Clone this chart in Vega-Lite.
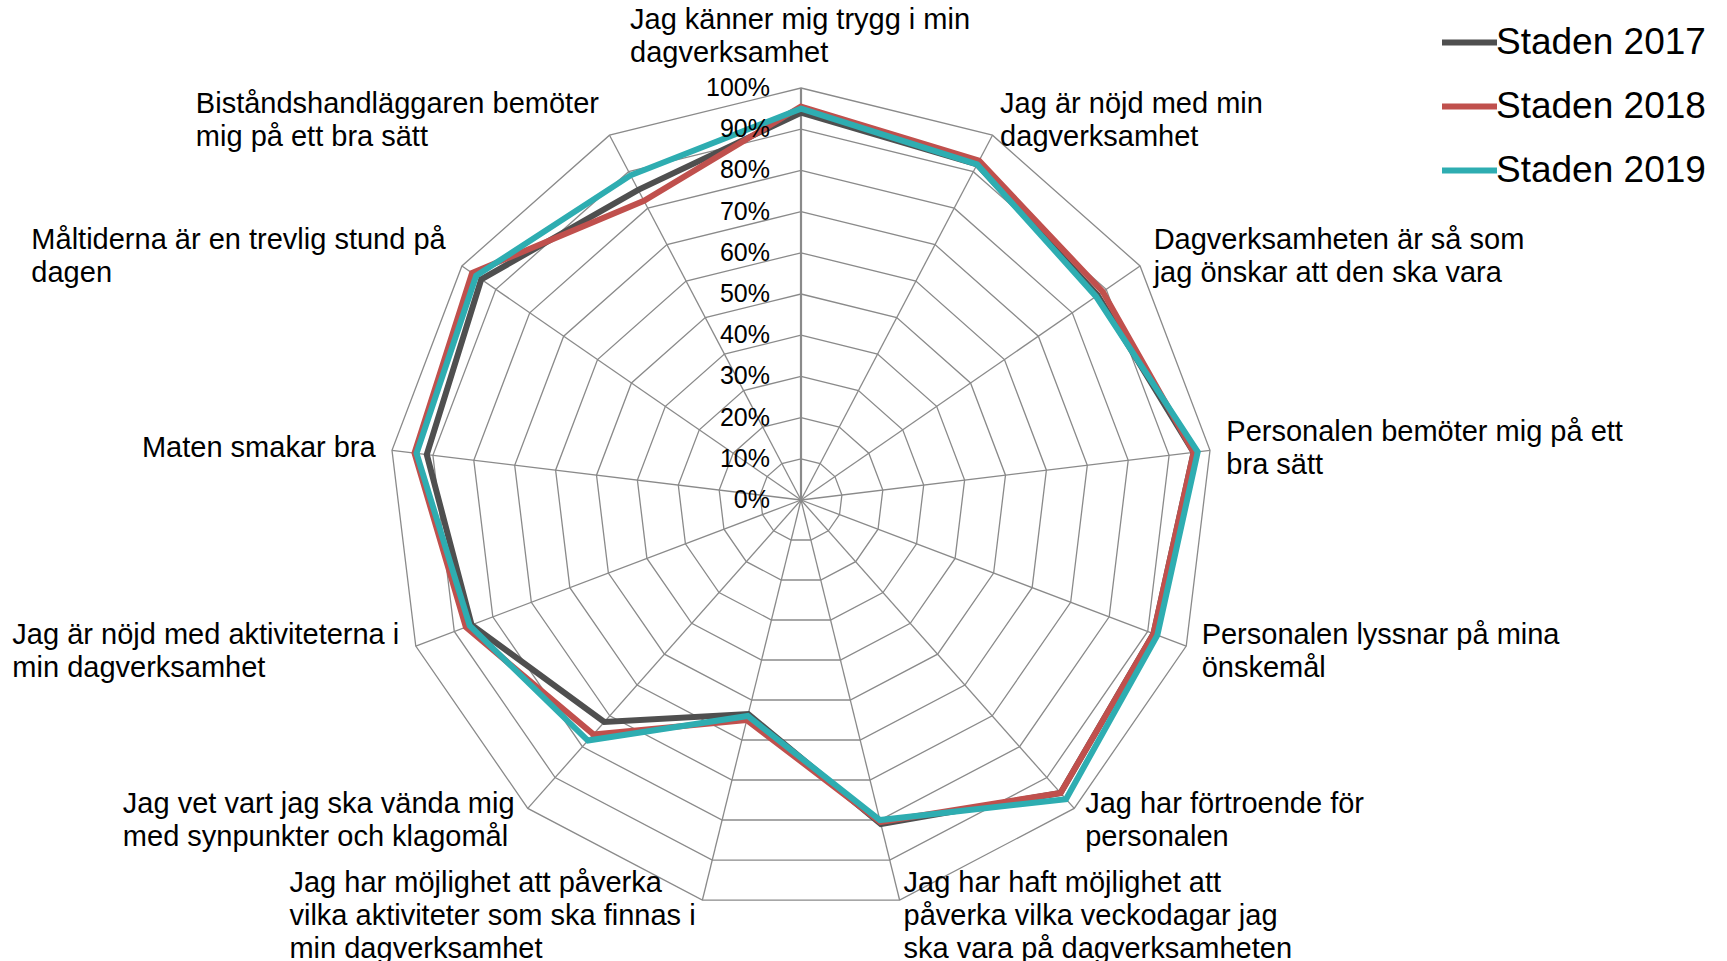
{
  "$schema": "https://vega.github.io/schema/vega-lite/v6.json",
  "width": 1727,
  "height": 961,
  "padding": 0,
  "autosize": "none",
  "background": "white",
  "config": {
    "view": {"stroke": null},
    "font": "Liberation Sans",
    "legend": {
      "orient": "none",
      "legendX": 1439,
      "legendY": 12,
      "padding": 0,
      "symbolType": "stroke",
      "symbolSize": 3025,
      "symbolStrokeWidth": 6,
      "labelFontSize": 37,
      "labelFont": "Liberation Sans",
      "labelColor": "black",
      "labelOffset": -4,
      "labelLimit": 400,
      "rowPadding": 15
    }
  },
  "datasets": {
    "cats": [
      {"i": 0, "label": ["Jag känner mig trygg i min", "dagverksamhet"]},
      {"i": 1, "label": ["Jag är nöjd med min", "dagverksamhet"]},
      {"i": 2, "label": ["Dagverksamheten är så som", "jag önskar att den ska vara"]},
      {"i": 3, "label": ["Personalen bemöter mig på ett", "bra sätt"]},
      {"i": 4, "label": ["Personalen lyssnar på mina", "önskemål"]},
      {"i": 5, "label": ["Jag har förtroende för", "personalen"]},
      {"i": 6, "label": ["Jag har haft möjlighet att", "påverka vilka veckodagar jag", "ska vara på dagverksamheten"]},
      {"i": 7, "label": ["Jag har möjlighet att påverka", "vilka aktiviteter som ska finnas i", "min dagverksamhet"]},
      {"i": 8, "label": ["Jag vet vart jag ska vända mig", "med synpunkter och klagomål"]},
      {"i": 9, "label": ["Jag är nöjd med aktiviteterna i", "min dagverksamhet"]},
      {"i": 10, "label": ["Maten smakar bra"]},
      {"i": 11, "label": ["Måltiderna är en trevlig stund på", "dagen"]},
      {"i": 12, "label": ["Biståndshandläggaren bemöter", "mig på ett bra sätt"]}
    ],
    "vals": [
      {"i": 0, "serie": "Staden 2017", "value": 94},
      {"i": 1, "serie": "Staden 2017", "value": 92},
      {"i": 2, "serie": "Staden 2017", "value": 87.5},
      {"i": 3, "serie": "Staden 2017", "value": 96},
      {"i": 4, "serie": "Staden 2017", "value": 91.5},
      {"i": 5, "serie": "Staden 2017", "value": 95},
      {"i": 6, "serie": "Staden 2017", "value": 81},
      {"i": 7, "serie": "Staden 2017", "value": 53.5},
      {"i": 8, "serie": "Staden 2017", "value": 72},
      {"i": 9, "serie": "Staden 2017", "value": 85.5},
      {"i": 10, "serie": "Staden 2017", "value": 91.5},
      {"i": 11, "serie": "Staden 2017", "value": 94.3},
      {"i": 12, "serie": "Staden 2017", "value": 85},
      {"i": 0, "serie": "Staden 2018", "value": 95.5},
      {"i": 1, "serie": "Staden 2018", "value": 93},
      {"i": 2, "serie": "Staden 2018", "value": 89},
      {"i": 3, "serie": "Staden 2018", "value": 96},
      {"i": 4, "serie": "Staden 2018", "value": 91.5},
      {"i": 5, "serie": "Staden 2018", "value": 95},
      {"i": 6, "serie": "Staden 2018", "value": 80.5},
      {"i": 7, "serie": "Staden 2018", "value": 55},
      {"i": 8, "serie": "Staden 2018", "value": 76},
      {"i": 9, "serie": "Staden 2018", "value": 87},
      {"i": 10, "serie": "Staden 2018", "value": 94.5},
      {"i": 11, "serie": "Staden 2018", "value": 97},
      {"i": 12, "serie": "Staden 2018", "value": 82},
      {"i": 0, "serie": "Staden 2019", "value": 95},
      {"i": 1, "serie": "Staden 2019", "value": 92},
      {"i": 2, "serie": "Staden 2019", "value": 87},
      {"i": 3, "serie": "Staden 2019", "value": 97},
      {"i": 4, "serie": "Staden 2019", "value": 92.5},
      {"i": 5, "serie": "Staden 2019", "value": 97},
      {"i": 6, "serie": "Staden 2019", "value": 80},
      {"i": 7, "serie": "Staden 2019", "value": 54},
      {"i": 8, "serie": "Staden 2019", "value": 78},
      {"i": 9, "serie": "Staden 2019", "value": 86},
      {"i": 10, "serie": "Staden 2019", "value": 94},
      {"i": 11, "serie": "Staden 2019", "value": 95.8},
      {"i": 12, "serie": "Staden 2019", "value": 89}
    ],
    "grid": [
      {"level": 10, "i": [0,1,2,3,4,5,6,7,8,9,10,11,12]},
      {"level": 20, "i": [0,1,2,3,4,5,6,7,8,9,10,11,12]},
      {"level": 30, "i": [0,1,2,3,4,5,6,7,8,9,10,11,12]},
      {"level": 40, "i": [0,1,2,3,4,5,6,7,8,9,10,11,12]},
      {"level": 50, "i": [0,1,2,3,4,5,6,7,8,9,10,11,12]},
      {"level": 60, "i": [0,1,2,3,4,5,6,7,8,9,10,11,12]},
      {"level": 70, "i": [0,1,2,3,4,5,6,7,8,9,10,11,12]},
      {"level": 80, "i": [0,1,2,3,4,5,6,7,8,9,10,11,12]},
      {"level": 90, "i": [0,1,2,3,4,5,6,7,8,9,10,11,12]},
      {"level": 100, "i": [0,1,2,3,4,5,6,7,8,9,10,11,12]}
    ],
    "ticks": [
      {"level": 0, "tick": "0%"},
      {"level": 10, "tick": "10%"},
      {"level": 20, "tick": "20%"},
      {"level": 30, "tick": "30%"},
      {"level": 40, "tick": "40%"},
      {"level": 50, "tick": "50%"},
      {"level": 60, "tick": "60%"},
      {"level": 70, "tick": "70%"},
      {"level": 80, "tick": "80%"},
      {"level": 90, "tick": "90%"},
      {"level": 100, "tick": "100%"}
    ]
  },
  "layer": [
    {
      "data": {"name": "grid"},
      "transform": [
        {"flatten": ["i"]},
        {"calculate": "datum.level / 100 * sin(datum.i * 2 * PI / 13)", "as": "x"},
        {"calculate": "datum.level / 100 * cos(datum.i * 2 * PI / 13)", "as": "y"}
      ],
      "mark": {"type": "line", "interpolate": "linear-closed", "stroke": "#8a8a8a", "strokeWidth": 1.3},
      "encoding": {
        "x": {"field": "x", "type": "quantitative", "scale": {"domain": [-1.94417, 2.24757], "nice": false, "zero": false}, "axis": null},
        "y": {"field": "y", "type": "quantitative", "scale": {"domain": [-1.11893, 1.21359], "nice": false, "zero": false}, "axis": null},
        "detail": {"field": "level", "type": "nominal"},
        "order": {"field": "i", "type": "quantitative"}
      }
    },
    {
      "data": {"name": "cats"},
      "transform": [
        {"calculate": "sin(datum.i * 2 * PI / 13)", "as": "x"},
        {"calculate": "cos(datum.i * 2 * PI / 13)", "as": "y"},
        {"calculate": "0", "as": "x0"},
        {"calculate": "0", "as": "y0"},
        {"calculate": "datum.i == 0 ? 2.2 : 1.3", "as": "sw"}
      ],
      "mark": {"type": "rule", "stroke": "#8a8a8a"},
      "encoding": {
        "x": {"field": "x0", "type": "quantitative", "scale": {"domain": [-1.94417, 2.24757], "nice": false, "zero": false}, "axis": null},
        "y": {"field": "y0", "type": "quantitative", "scale": {"domain": [-1.11893, 1.21359], "nice": false, "zero": false}, "axis": null},
        "x2": {"field": "x"},
        "y2": {"field": "y"},
        "strokeWidth": {"field": "sw", "type": "quantitative", "scale": null}
      }
    },
    {
      "data": {"name": "vals"},
      "transform": [
        {"calculate": "datum.value / 100 * sin(datum.i * 2 * PI / 13)", "as": "x"},
        {"calculate": "datum.value / 100 * cos(datum.i * 2 * PI / 13)", "as": "y"}
      ],
      "mark": {"type": "line", "interpolate": "linear-closed", "strokeWidth": 6, "strokeJoin": "miter"},
      "encoding": {
        "x": {"field": "x", "type": "quantitative", "scale": {"domain": [-1.94417, 2.24757], "nice": false, "zero": false}, "axis": null},
        "y": {"field": "y", "type": "quantitative", "scale": {"domain": [-1.11893, 1.21359], "nice": false, "zero": false}, "axis": null},
        "color": {"field": "serie", "type": "nominal", "title": null, "scale": {"domain": ["Staden 2017", "Staden 2018", "Staden 2019"], "range": ["#4f4f4f", "#c0504d", "#2eadb1"]}},
        "order": {"field": "i", "type": "quantitative"}
      }
    },
    {
      "data": {"name": "cats"},
      "transform": [
        {"calculate": "1.04 * sin(datum.i * 2 * PI / 13)", "as": "x"},
        {"calculate": "1.04 * cos(datum.i * 2 * PI / 13) + (length(datum.label) - 1) / 2 * 0.0801", "as": "y"},
        {"filter": "datum.x > 0.1"}
      ],
      "mark": {"type": "text", "align": "left", "baseline": "middle", "fontSize": 29, "lineHeight": 33, "color": "black", "font": "Liberation Sans"},
      "encoding": {
        "x": {"field": "x", "type": "quantitative", "scale": {"domain": [-1.94417, 2.24757], "nice": false, "zero": false}, "axis": null},
        "y": {"field": "y", "type": "quantitative", "scale": {"domain": [-1.11893, 1.21359], "nice": false, "zero": false}, "axis": null},
        "text": {"field": "label", "type": "nominal"}
      }
    },
    {
      "data": {"name": "cats"},
      "transform": [
        {"calculate": "1.04 * sin(datum.i * 2 * PI / 13)", "as": "x"},
        {"calculate": "1.04 * cos(datum.i * 2 * PI / 13) + (length(datum.label) - 1) / 2 * 0.0801", "as": "y"},
        {"filter": "datum.i == 10"}
      ],
      "mark": {"type": "text", "align": "right", "baseline": "middle", "fontSize": 29, "lineHeight": 33, "color": "black", "font": "Liberation Sans"},
      "encoding": {
        "x": {"field": "x", "type": "quantitative", "scale": {"domain": [-1.94417, 2.24757], "nice": false, "zero": false}, "axis": null},
        "y": {"field": "y", "type": "quantitative", "scale": {"domain": [-1.11893, 1.21359], "nice": false, "zero": false}, "axis": null},
        "text": {"field": "label", "type": "nominal"}
      }
    },
    {
      "data": {"name": "cats"},
      "transform": [
        {"calculate": "1.04 * sin(datum.i * 2 * PI / 13)", "as": "x"},
        {"calculate": "1.04 * cos(datum.i * 2 * PI / 13) + (length(datum.label) - 1) / 2 * 0.0801", "as": "y"},
        {"filter": "datum.i == 7"}
      ],
      "mark": {"type": "text", "align": "left", "baseline": "middle", "dx": -409, "fontSize": 29, "lineHeight": 33, "color": "black", "font": "Liberation Sans"},
      "encoding": {
        "x": {"field": "x", "type": "quantitative", "scale": {"domain": [-1.94417, 2.24757], "nice": false, "zero": false}, "axis": null},
        "y": {"field": "y", "type": "quantitative", "scale": {"domain": [-1.11893, 1.21359], "nice": false, "zero": false}, "axis": null},
        "text": {"field": "label", "type": "nominal"}
      }
    },
    {
      "data": {"name": "cats"},
      "transform": [
        {"calculate": "1.04 * sin(datum.i * 2 * PI / 13)", "as": "x"},
        {"calculate": "1.04 * cos(datum.i * 2 * PI / 13) + (length(datum.label) - 1) / 2 * 0.0801", "as": "y"},
        {"filter": "datum.i == 8"}
      ],
      "mark": {"type": "text", "align": "left", "baseline": "middle", "dx": -394, "fontSize": 29, "lineHeight": 33, "color": "black", "font": "Liberation Sans"},
      "encoding": {
        "x": {"field": "x", "type": "quantitative", "scale": {"domain": [-1.94417, 2.24757], "nice": false, "zero": false}, "axis": null},
        "y": {"field": "y", "type": "quantitative", "scale": {"domain": [-1.11893, 1.21359], "nice": false, "zero": false}, "axis": null},
        "text": {"field": "label", "type": "nominal"}
      }
    },
    {
      "data": {"name": "cats"},
      "transform": [
        {"calculate": "1.04 * sin(datum.i * 2 * PI / 13)", "as": "x"},
        {"calculate": "1.04 * cos(datum.i * 2 * PI / 13) + (length(datum.label) - 1) / 2 * 0.0801", "as": "y"},
        {"filter": "datum.i == 9"}
      ],
      "mark": {"type": "text", "align": "left", "baseline": "middle", "dx": -388, "fontSize": 29, "lineHeight": 33, "color": "black", "font": "Liberation Sans"},
      "encoding": {
        "x": {"field": "x", "type": "quantitative", "scale": {"domain": [-1.94417, 2.24757], "nice": false, "zero": false}, "axis": null},
        "y": {"field": "y", "type": "quantitative", "scale": {"domain": [-1.11893, 1.21359], "nice": false, "zero": false}, "axis": null},
        "text": {"field": "label", "type": "nominal"}
      }
    },
    {
      "data": {"name": "cats"},
      "transform": [
        {"calculate": "1.04 * sin(datum.i * 2 * PI / 13)", "as": "x"},
        {"calculate": "1.04 * cos(datum.i * 2 * PI / 13) + (length(datum.label) - 1) / 2 * 0.0801", "as": "y"},
        {"filter": "datum.i == 11"}
      ],
      "mark": {"type": "text", "align": "left", "baseline": "middle", "dx": -417, "fontSize": 29, "lineHeight": 33, "color": "black", "font": "Liberation Sans"},
      "encoding": {
        "x": {"field": "x", "type": "quantitative", "scale": {"domain": [-1.94417, 2.24757], "nice": false, "zero": false}, "axis": null},
        "y": {"field": "y", "type": "quantitative", "scale": {"domain": [-1.11893, 1.21359], "nice": false, "zero": false}, "axis": null},
        "text": {"field": "label", "type": "nominal"}
      }
    },
    {
      "data": {"name": "cats"},
      "transform": [
        {"calculate": "1.04 * sin(datum.i * 2 * PI / 13)", "as": "x"},
        {"calculate": "1.04 * cos(datum.i * 2 * PI / 13) + (length(datum.label) - 1) / 2 * 0.0801", "as": "y"},
        {"filter": "datum.i == 12"}
      ],
      "mark": {"type": "text", "align": "left", "baseline": "middle", "dx": -406, "fontSize": 29, "lineHeight": 33, "color": "black", "font": "Liberation Sans"},
      "encoding": {
        "x": {"field": "x", "type": "quantitative", "scale": {"domain": [-1.94417, 2.24757], "nice": false, "zero": false}, "axis": null},
        "y": {"field": "y", "type": "quantitative", "scale": {"domain": [-1.11893, 1.21359], "nice": false, "zero": false}, "axis": null},
        "text": {"field": "label", "type": "nominal"}
      }
    },
    {
      "data": {"name": "cats"},
      "transform": [
        {"filter": "datum.i == 0"},
        {"calculate": "0", "as": "x"},
        {"calculate": "1.085 + (length(datum.label) - 1) * 0.0801", "as": "y"}
      ],
      "mark": {"type": "text", "align": "left", "baseline": "middle", "dx": -171, "fontSize": 29, "lineHeight": 33, "color": "black", "font": "Liberation Sans"},
      "encoding": {
        "x": {"field": "x", "type": "quantitative", "scale": {"domain": [-1.94417, 2.24757], "nice": false, "zero": false}, "axis": null},
        "y": {"field": "y", "type": "quantitative", "scale": {"domain": [-1.11893, 1.21359], "nice": false, "zero": false}, "axis": null},
        "text": {"field": "label", "type": "nominal"}
      }
    },
    {
      "data": {"name": "ticks"},
      "transform": [
        {"calculate": "datum.level / 100", "as": "y"},
        {"calculate": "0", "as": "x"}
      ],
      "mark": {"type": "text", "align": "right", "baseline": "middle", "dx": -31, "fontSize": 25, "color": "black", "font": "Liberation Sans"},
      "encoding": {
        "x": {"field": "x", "type": "quantitative", "scale": {"domain": [-1.94417, 2.24757], "nice": false, "zero": false}, "axis": null},
        "y": {"field": "y", "type": "quantitative", "scale": {"domain": [-1.11893, 1.21359], "nice": false, "zero": false}, "axis": null},
        "text": {"field": "tick", "type": "nominal"}
      }
    }
  ]
}
